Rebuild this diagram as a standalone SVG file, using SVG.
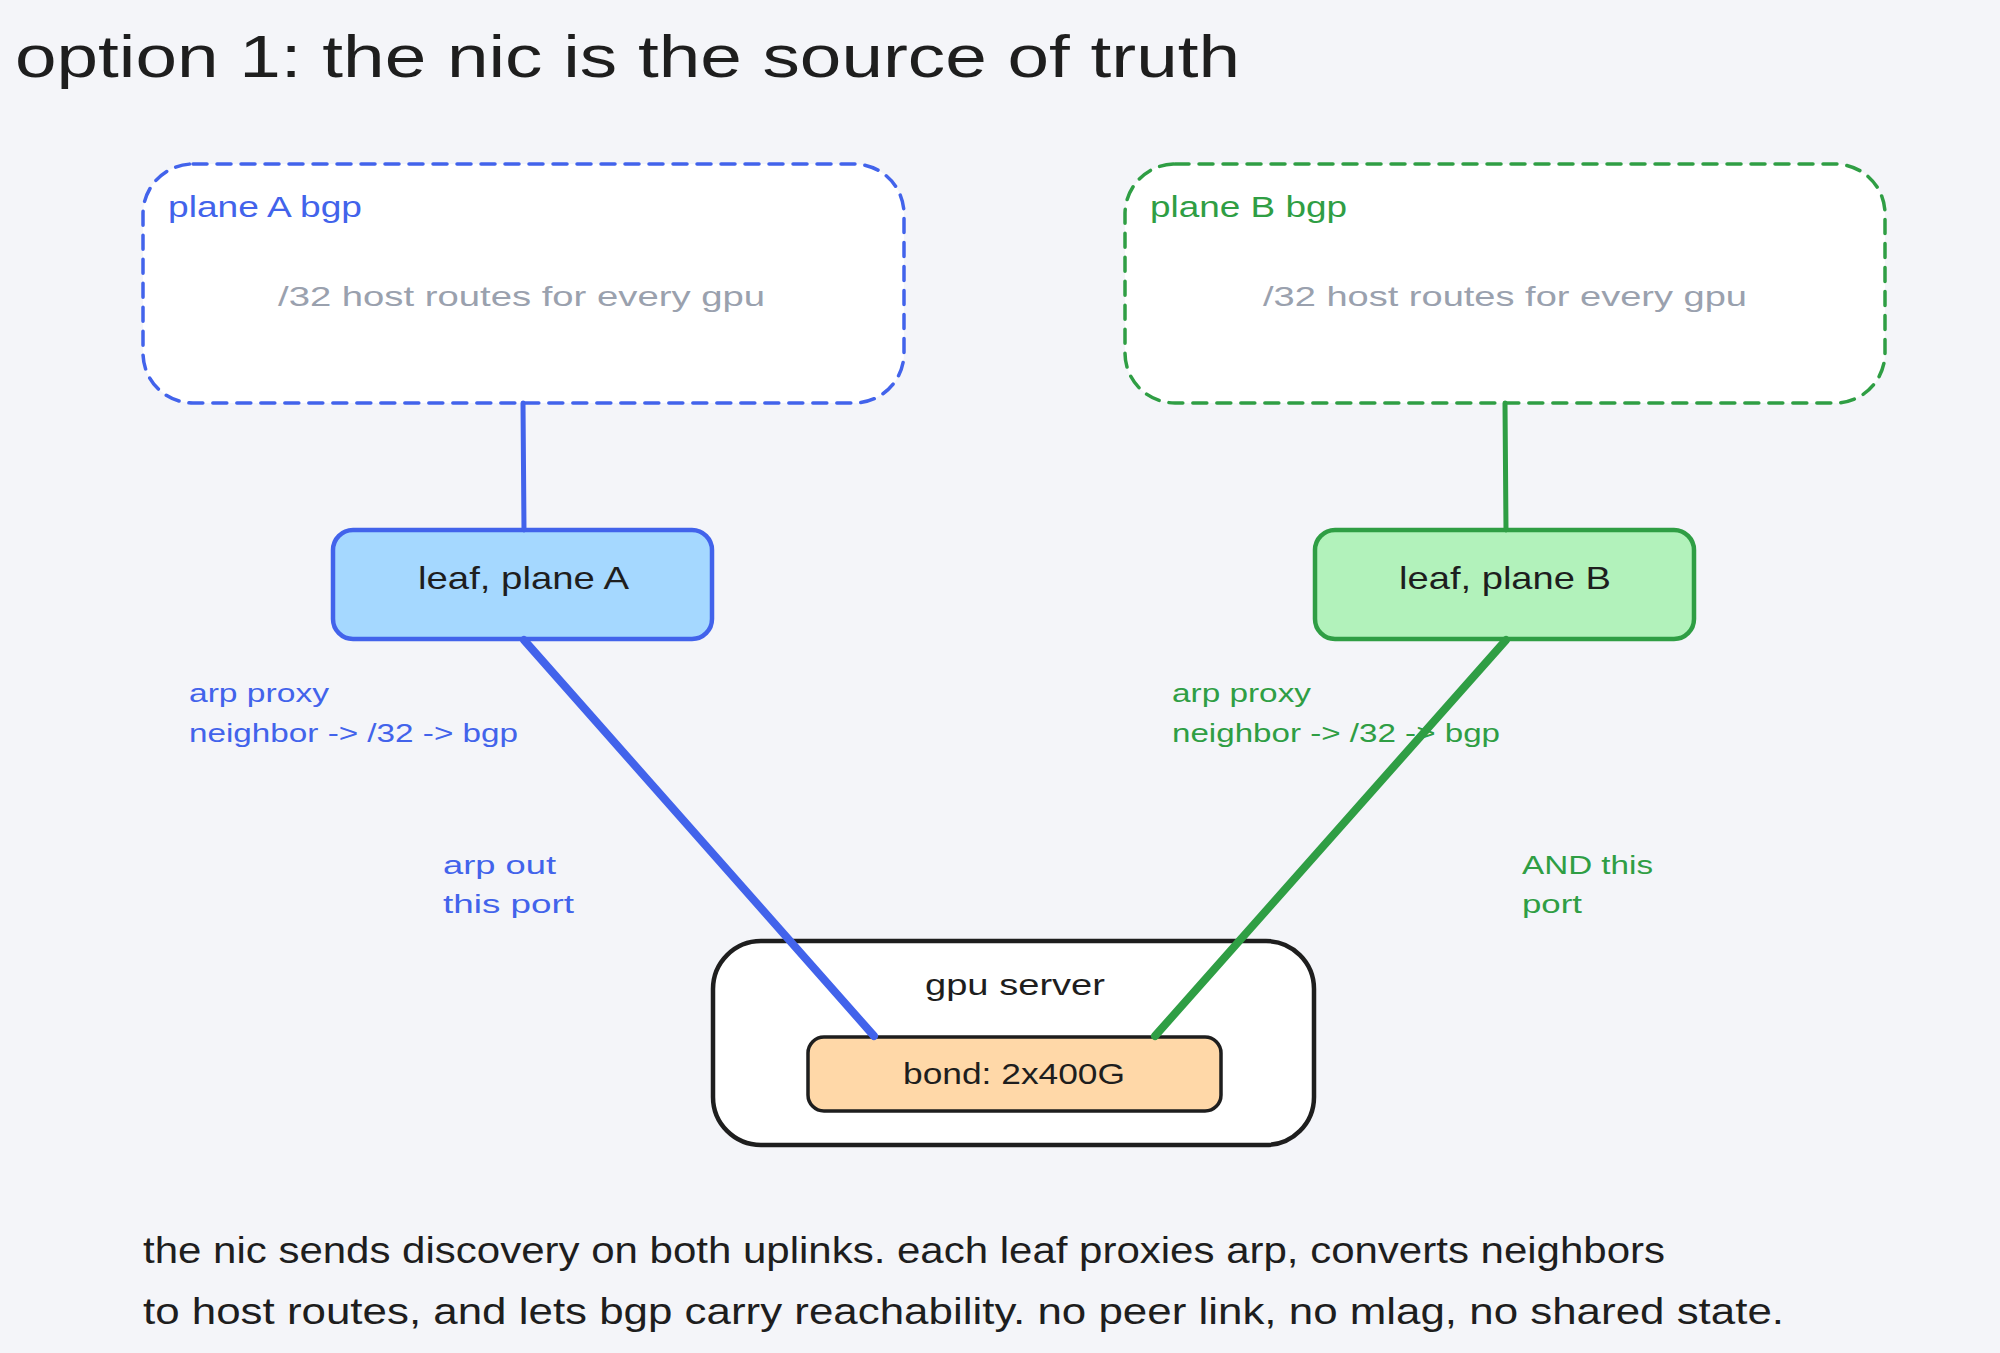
<svg xmlns="http://www.w3.org/2000/svg" width="2000" height="1353" viewBox="0 0 2000 1353">
<style>
text{font-family:"Liberation Sans","DejaVu Sans",sans-serif;}
.blue{fill:#4263eb;}
.green{fill:#2f9e44;}
.gray{fill:#9aa1ae;}
.dark{fill:#1e1e1e;}
.plane{fill:#ffffff;stroke-width:3.5;stroke-dasharray:14 10;stroke-linecap:round;}
.leaf{stroke-width:4.5;}
.conn{fill:none;stroke-linecap:round;}
</style>
<rect x="0" y="0" width="2000" height="1353" fill="#f4f5f9"/>
<text x="15" y="77" font-size="60" class="dark" textLength="1225" lengthAdjust="spacingAndGlyphs">option 1: the nic is the source of truth</text>

<g id="plane-a">
<rect x="143" y="164" width="761" height="239" rx="50" class="plane" stroke="#4263eb"/>
<text x="168" y="217" font-size="30" class="blue" textLength="194" lengthAdjust="spacingAndGlyphs">plane A bgp</text>
<text x="278" y="306" font-size="28" class="gray" textLength="487" lengthAdjust="spacingAndGlyphs">/32 host routes for every gpu</text>
</g>
<g id="plane-b">
<rect x="1125" y="164" width="760" height="239" rx="50" class="plane" stroke="#2f9e44"/>
<text x="1150" y="217" font-size="30" class="green" textLength="197" lengthAdjust="spacingAndGlyphs">plane B bgp</text>
<text x="1263" y="306" font-size="28" class="gray" textLength="484" lengthAdjust="spacingAndGlyphs">/32 host routes for every gpu</text>
</g>
<g id="leaf-a">
<rect x="333" y="530" width="379" height="109" rx="20" class="leaf" fill="#a5d8ff" stroke="#4263eb"/>
<text x="418" y="589" font-size="32" class="dark" textLength="211" lengthAdjust="spacingAndGlyphs">leaf, plane A</text>
</g>
<g id="leaf-b">
<rect x="1315" y="530" width="379" height="109" rx="20" class="leaf" fill="#b2f2bb" stroke="#2f9e44"/>
<text x="1399" y="589" font-size="32" class="dark" textLength="212" lengthAdjust="spacingAndGlyphs">leaf, plane B</text>
</g>
<g id="gpu-server">
<rect x="713" y="941" width="601" height="204" rx="48" fill="#ffffff" stroke="#1e1e1e" stroke-width="4.5"/>
<text x="925" y="995" font-size="30" class="dark" textLength="180" lengthAdjust="spacingAndGlyphs">gpu server</text>
</g>
<g id="bond">
<rect x="808" y="1037" width="413" height="74" rx="16" fill="#ffd8a8" stroke="#1e1e1e" stroke-width="3.5"/>
<text x="903" y="1084" font-size="29" class="dark" textLength="222" lengthAdjust="spacingAndGlyphs">bond: 2x400G</text>
</g>

<g id="labels">
<text x="189" y="702" font-size="26" class="blue" textLength="140" lengthAdjust="spacingAndGlyphs">arp proxy</text>
<text x="189" y="742" font-size="26" class="blue" textLength="329" lengthAdjust="spacingAndGlyphs">neighbor -&gt; /32 -&gt; bgp</text>
<text x="1172" y="702" font-size="26" class="green" textLength="139" lengthAdjust="spacingAndGlyphs">arp proxy</text>
<text x="1172" y="742" font-size="26" class="green" textLength="328" lengthAdjust="spacingAndGlyphs">neighbor -&gt; /32 -&gt; bgp</text>
<text x="443" y="874" font-size="26" class="blue" textLength="113" lengthAdjust="spacingAndGlyphs">arp out</text>
<text x="443" y="913" font-size="26" class="blue" textLength="131" lengthAdjust="spacingAndGlyphs">this port</text>
<text x="1522" y="874" font-size="26" class="green" textLength="131" lengthAdjust="spacingAndGlyphs">AND this</text>
<text x="1522" y="913" font-size="26" class="green" textLength="60" lengthAdjust="spacingAndGlyphs">port</text>
</g>

<g id="connectors">
<line x1="523" y1="403" x2="524" y2="530" class="conn" stroke="#4263eb" stroke-width="5"/>
<line x1="1505" y1="403" x2="1506" y2="530" class="conn" stroke="#2f9e44" stroke-width="5"/>
<line x1="524" y1="640" x2="874" y2="1036" class="conn" stroke="#4263eb" stroke-width="8"/>
<line x1="1506" y1="640" x2="1155" y2="1036" class="conn" stroke="#2f9e44" stroke-width="8"/>
</g>

<g id="caption">
<text x="143" y="1263" font-size="36" class="dark" textLength="1522" lengthAdjust="spacingAndGlyphs">the nic sends discovery on both uplinks. each leaf proxies arp, converts neighbors</text>
<text x="143" y="1324" font-size="36" class="dark" textLength="1641" lengthAdjust="spacingAndGlyphs">to host routes, and lets bgp carry reachability. no peer link, no mlag, no shared state.</text>
</g>
</svg>
